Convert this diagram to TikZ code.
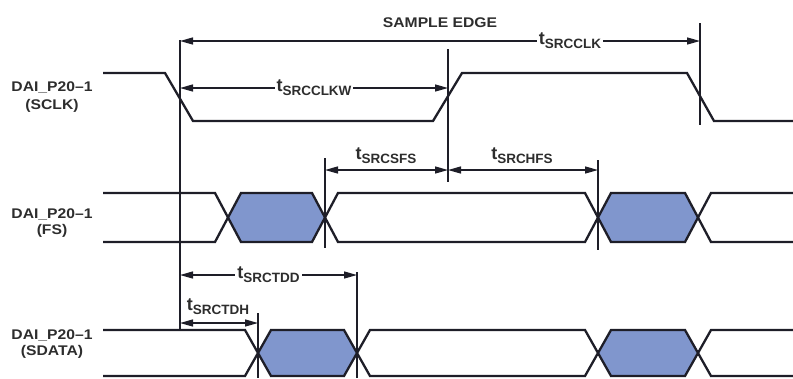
\documentclass[tikz,border=0pt]{standalone}
\usepackage{fontspec}
\usepackage{graphicx}
\setmainfont{Liberation Sans}
\usetikzlibrary{arrows.meta}
\definecolor{sig}{RGB}{30,30,40}
\definecolor{busfill}{RGB}{128,150,205}
\definecolor{txt}{RGB}{45,45,45}
\newcommand{\tlab}[1]{{\fontsize{18}{18}\selectfont\bfseries t}\raisebox{-4pt}{\fontsize{13.5}{13.5}\selectfont\bfseries #1}}
\newcommand{\wtext}[1]{\scalebox{1.12}[1]{\fontsize{14}{14}\selectfont\bfseries #1}}
\begin{document}
\begin{tikzpicture}[x=1pt,y=-1pt,
  signal/.style={draw=sig, line width=2.3pt, line join=miter},
  refline/.style={draw=sig, line width=1.3pt},
  dim/.style={draw=sig, line width=1.3pt, {Triangle[length=13pt,width=7pt]}-{Triangle[length=13pt,width=7pt]}},
  dimlab/.style={fill=white, inner sep=2pt, text=txt},
  abovelab/.style={text=txt, inner sep=0pt},
  signame/.style={text=txt, inner sep=0pt},
  busbox/.style={fill=busfill, draw=none}]
\useasboundingbox (0,0) rectangle (793,378);

% signal names
\node[signame] (n1a) at (52,87) {\wtext{DAI\_P20--1}};
\node[signame] (n1b) at (52,106) {\wtext{(SCLK)}};
\node[signame] (n2a) at (52,214) {\wtext{DAI\_P20--1}};
\node[signame] (n2b) at (52,231) {\wtext{(FS)}};
\node[signame] (n3a) at (52,335) {\wtext{DAI\_P20--1}};
\node[signame] (n3b) at (52,352) {\wtext{(SDATA)}};

\node[signame] (se) at (440,23) {\wtext{SAMPLE EDGE}};

% SCLK
\draw[signal] (103,73) -- (165,73) -- (193,121) -- (433,121) -- (462,73) -- (687,73) -- (714,121) -- (793,121);

% FS bus (top 193, bottom 242, mid 217.5)
\fill[busbox] (228,217.5) -- (241,193) -- (312,193) -- (325,217.5) -- (312,242) -- (241,242) -- cycle;
\fill[busbox] (598,217.5) -- (611,193) -- (685,193) -- (698,217.5) -- (685,242) -- (611,242) -- cycle;
\draw[signal] (103,193) -- (215,193) -- (241,242) -- (312,242) -- (338,193) -- (585,193) -- (611,242) -- (685,242) -- (711,193) -- (793,193);
\draw[signal] (103,242) -- (215,242) -- (241,193) -- (312,193) -- (338,242) -- (585,242) -- (611,193) -- (685,193) -- (711,242) -- (793,242);

% SDATA bus (top 330, bottom 376, mid 353)
\fill[busbox] (258,353) -- (271,330) -- (344,330) -- (357,353) -- (344,376) -- (271,376) -- cycle;
\fill[busbox] (598,353) -- (611,330) -- (685,330) -- (698,353) -- (685,376) -- (611,376) -- cycle;
\draw[signal] (103,330) -- (245,330) -- (271,376) -- (344,376) -- (370,330) -- (585,330) -- (611,376) -- (685,376) -- (711,330) -- (793,330);
\draw[signal] (103,376) -- (245,376) -- (271,330) -- (344,330) -- (370,376) -- (585,376) -- (611,330) -- (685,330) -- (711,376) -- (793,376);

% reference lines
\coordinate (A1) at (180,40);  \coordinate (A2) at (180,330);
\coordinate (S1) at (448,49);  \coordinate (S2) at (448,182);
\coordinate (R1) at (700,23);  \coordinate (R2) at (700,125);
\coordinate (F1) at (325,158); \coordinate (F2) at (325,248);
\coordinate (H1) at (598,160); \coordinate (H2) at (598,250);
\coordinate (T1) at (258,313); \coordinate (T2) at (258,378);
\coordinate (D1) at (357,272); \coordinate (D2) at (357,378);
\draw[refline] (A1) -- (A2);
\draw[refline] (S1) -- (S2);
\draw[refline] (R1) -- (R2);
\draw[refline] (F1) -- (F2);
\draw[refline] (H1) -- (H2);
\draw[refline] (T1) -- (T2);
\draw[refline] (D1) -- (D2);

% dimension arrows
\coordinate (clkA) at (180,41);  \coordinate (clkB) at (700,41);
\coordinate (clwA) at (180,88);  \coordinate (clwB) at (448,88);
\coordinate (sfsA) at (325,170); \coordinate (sfsB) at (448,170);
\coordinate (hfsA) at (448,170); \coordinate (hfsB) at (598,170);
\coordinate (tddA) at (180,275); \coordinate (tddB) at (357,275);
\coordinate (tdhA) at (180,323); \coordinate (tdhB) at (258,323);

\draw[dim] (clkA) -- node[dimlab, pos=0.75] (lclk) {\tlab{SRCCLK}} (clkB);
\draw[dim] (clwA) -- node[dimlab] (lclw) {\tlab{SRCCLKW}} (clwB);
\draw[dim] (sfsA) -- (sfsB);
\node[abovelab] (lsfs) at (386,156) {\tlab{SRCSFS}};
\draw[dim] (hfsA) -- (hfsB);
\node[abovelab] (lhfs) at (522,156) {\tlab{SRCHFS}};
\draw[dim] (tddA) -- node[dimlab] (ltdd) {\tlab{SRCTDD}} (tddB);
\draw[dim] (tdhA) -- (tdhB);
\node[abovelab] (ltdh) at (218,307) {\tlab{SRCTDH}};
\end{tikzpicture}
\end{document}
